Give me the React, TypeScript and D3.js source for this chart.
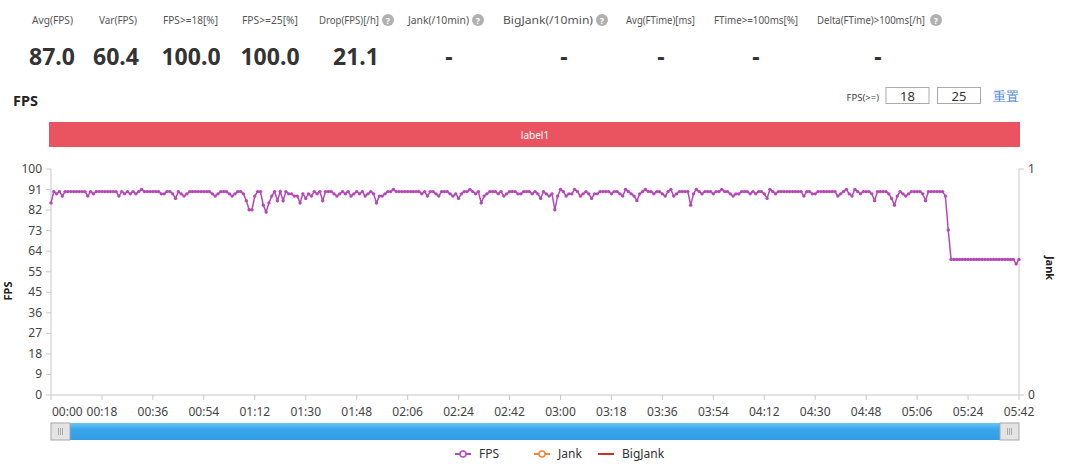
import React from "react";
import * as d3 from "d3";

const statLabels = ["Avg(FPS)", "Var(FPS)", "FPS>=18[%]", "FPS>=25[%]", "Drop(FPS)[/h]", "Jank(/10min)", "BigJank(/10min)", "Avg(FTime)[ms]", "FTime>=100ms[%]", "Delta(FTime)>100ms[/h]"];
const statValues = ["87.0", "60.4", "100.0", "100.0", "21.1", "-", "-", "-", "-", "-"];
const statHelp = [false, false, false, false, true, true, true, false, false, true];
const statLabelStart = [32, 99, 163, 242, 319, 408, 503, 626, 714, 817];
const statLabelWidth = [41, 38, 55, 56, 60, 61, 90, 69, 84, 108];
const statCenters = [52, 116, 191, 270, 356, 449, 564, 661, 756, 878];

const yTickLabels = [0, 9, 18, 27, 36, 45, 55, 64, 73, 82, 91, 100];
const xTickLabels = ["00:00", "00:18", "00:36", "00:54", "01:12", "01:30", "01:48", "02:06", "02:24", "02:42", "03:00", "03:18", "03:36", "03:54", "04:12", "04:30", "04:48", "05:06", "05:24", "05:42"];
const legendItems = ["FPS", "Jank", "BigJank"];
const legendColors = ["#b548b8", "#f0883a", "#c23531"];

// FPS per second, 0..342 s
const fpsValues = [
  85,90,89,90,88,90,90,90,90,90,
  90,90,90,88,90,89,90,90,90,90,
  90,90,90,90,88,90,89,90,89,90,
  89,90,91,90,90,90,90,90,90,89,
  89,90,90,89,87,90,89,88,89,90,
  90,90,90,90,90,90,90,89,88,89,
  90,90,90,89,88,89,90,90,89,86,
  82,82,88,90,90,84,81,85,88,90,
  86,90,86,90,89,89,88,88,85,89,
  87,89,88,90,89,90,86,90,90,90,
  89,88,89,90,89,90,88,89,90,89,
  90,88,89,90,89,85,88,88,89,90,
  90,91,90,90,90,90,90,90,90,90,
  90,89,90,88,90,90,89,88,90,90,
  90,89,88,89,87,89,90,90,91,90,
  89,90,85,88,89,90,90,90,89,90,
  88,89,90,90,90,89,89,90,90,90,
  89,90,89,87,90,89,88,89,82,88,
  91,90,88,89,89,91,90,88,89,90,
  89,87,89,89,90,90,90,90,89,90,
  90,89,88,91,90,89,88,86,89,90,
  91,90,90,89,90,90,89,88,90,91,
  88,89,90,90,90,90,84,89,91,90,
  89,90,90,90,89,90,90,91,90,90,
  89,88,89,89,90,90,90,89,90,89,
  90,90,89,87,91,90,89,90,90,90,
  90,90,90,90,90,90,88,90,90,89,
  89,90,90,90,90,90,90,90,88,89,
  90,91,89,88,91,90,89,90,90,90,
  89,86,90,90,90,90,89,87,84,88,
  90,89,88,89,90,90,90,90,89,86,
  90,90,90,90,90,90,88,73,60,60,
  60,60,60,60,60,60,60,60,60,60,
  60,60,60,60,60,60,60,60,60,60,
  60,58,60
];

const W = 1080, H = 469;
const L = 51, R = 1019, T = 169, B = 395;
const FONT = "'Noto Sans', 'Open Sans', sans-serif";

export default function App() {
  const x = d3.scaleLinear().domain([0, 342]).range([L, R]);
  const y = d3.scaleLinear().domain([0, 100]).range([B, T]);
  const yr = d3.scaleLinear().domain([0, 1]).range([B, T]);
  const line = d3.line<number>().x((_, i) => x(i)).y((d) => y(d));
  const axisColor = "#c8c8c8";
  const textColor = "#444";

  return (
    <svg width={W} height={H} style={{ position: "absolute", left: 0, top: 0, background: "#fff" }} fontFamily={FONT}>
      <defs>
        <linearGradient id="sl" x1="0" y1="0" x2="0" y2="1">
          <stop offset="0" stopColor="#6cc4f5" />
          <stop offset="0.35" stopColor="#3aa6ec" />
          <stop offset="1" stopColor="#2f9de4" />
        </linearGradient>
      </defs>
      <rect width={W} height={H} fill="#fff" />
      {/* stats */}
      {statLabels.map((s, i) => {
        const sx = statLabelStart[i];
        const sw = statLabelWidth[i];
        const ix = sx + sw + (i === 9 ? 11 : 9);
        return (
          <g key={s}>
            <text x={sx} y={24} fontSize={i === 9 ? 10 : 11} fill="#555" textLength={sw} lengthAdjust="spacingAndGlyphs">{s}</text>
            {statHelp[i] && (
              <g>
                <circle cx={ix} cy={20} r={6} fill="#b0b0b0" />
                <text x={ix} y={23.5} fontSize={9} fill="#fff" textAnchor="middle" fontWeight="bold">?</text>
              </g>
            )}
            <text x={statCenters[i]} y={65} fontSize={23} fontWeight="bold" fill="#333" textAnchor="middle">{statValues[i]}</text>
          </g>
        );
      })}
      {/* title */}
      <text x={13} y={106} fontSize={14.5} fontWeight="bold" fill="#222">FPS</text>
      {/* controls */}
      <text x={879} y={101} fontSize={9.5} fill="#444" textAnchor="end">FPS(&gt;=)</text>
      <rect x={886} y={87.5} width={43} height={16} fill="#fff" stroke="#aaa" />
      <text x={907.5} y={101} fontSize={13} fill="#333" textAnchor="middle">18</text>
      <rect x={937.5} y={87.5} width={43} height={16} fill="#fff" stroke="#aaa" />
      <text x={959} y={101} fontSize={13} fill="#333" textAnchor="middle">25</text>
      <text x={993} y={101} fontSize={13} fill="#4a7fd6">重置</text>
      {/* label bar */}
      <rect x={L - 2} y={122} width={R - L + 3} height={25} fill="#ea5461" />
      <text x={(L + R) / 2} y={138.5} fontSize={10} fill="#fff" textAnchor="middle">label1</text>
      {/* axes */}
      <line x1={L} x2={L} y1={T} y2={B} stroke={axisColor} />
      <line x1={R} x2={R} y1={T} y2={B} stroke={axisColor} />
      <line x1={L} x2={R} y1={B} y2={B} stroke={axisColor} />
      {yTickLabels.map((lab, i) => {
        const yy = y((i * 100) / 11);
        return (
          <g key={"yt" + i}>
            <line x1={L - 5} x2={L} y1={yy} y2={yy} stroke={axisColor} />
            <text x={L - 9} y={yy + 4} fontSize={12} fill={textColor} textAnchor="end">{lab}</text>
          </g>
        );
      })}
      {[0, 1].map((v) => (
        <g key={"yr" + v}>
          <line x1={R} x2={R + 5} y1={yr(v)} y2={yr(v)} stroke={axisColor} />
          <text x={R + 9} y={yr(v) + 4} fontSize={12} fill={textColor}>{v}</text>
        </g>
      ))}
      {xTickLabels.map((lab, i) => {
        const xx = x(i * 18);
        return (
          <g key={"xt" + i}>
            <line x1={xx} x2={xx} y1={B} y2={B + 5} stroke={axisColor} />
            <text x={i === 0 ? xx + 1 : xx} y={416} fontSize={12} fill={textColor} textAnchor={i === 0 ? "start" : "middle"}>{lab}</text>
          </g>
        );
      })}
      <text transform={`translate(12,291) rotate(-90)`} fontSize={11} fontWeight="bold" fill="#222" textAnchor="middle">FPS</text>
      <text transform={`translate(1046,268) rotate(90)`} fontSize={11} fontWeight="bold" fill="#222" textAnchor="middle">Jank</text>
      {/* series */}
      <path d={line(fpsValues) || ""} fill="none" stroke="#b548b8" strokeWidth={1.5} />
      {fpsValues.map((v, i) => (
        <circle key={"p" + i} cx={x(i)} cy={y(v)} r={1.7} fill="#b548b8" />
      ))}
      {/* slider */}
      <rect x={L} y={423} width={R - L} height={17} fill="url(#sl)" />
      {[L, R - 19].map((hx, k) => (
        <g key={"h" + k}>
          <rect x={hx} y={423} width={19} height={17} fill="#e4e4e4" stroke="#a8a8a8" />
          {[-2, 0, 2].map((o) => (
            <line key={o} x1={hx + 9.5 + o} x2={hx + 9.5 + o} y1={428} y2={435} stroke="#999" strokeWidth={0.8} />
          ))}
        </g>
      ))}
      {/* legend */}
      {legendItems.map((name, i) => {
        const lx = [455, 534, 598][i];
        const c = legendColors[i];
        return (
          <g key={name}>
            <line x1={lx} x2={lx + 16} y1={454} y2={454} stroke={c} strokeWidth={2} />
            {i < 2 && <circle cx={lx + 8} cy={454} r={3} fill="#fff" stroke={c} strokeWidth={1.5} />}
            <text x={lx + 24} y={458} fontSize={12} fill="#333">{name}</text>
          </g>
        );
      })}
    </svg>
  );
}
